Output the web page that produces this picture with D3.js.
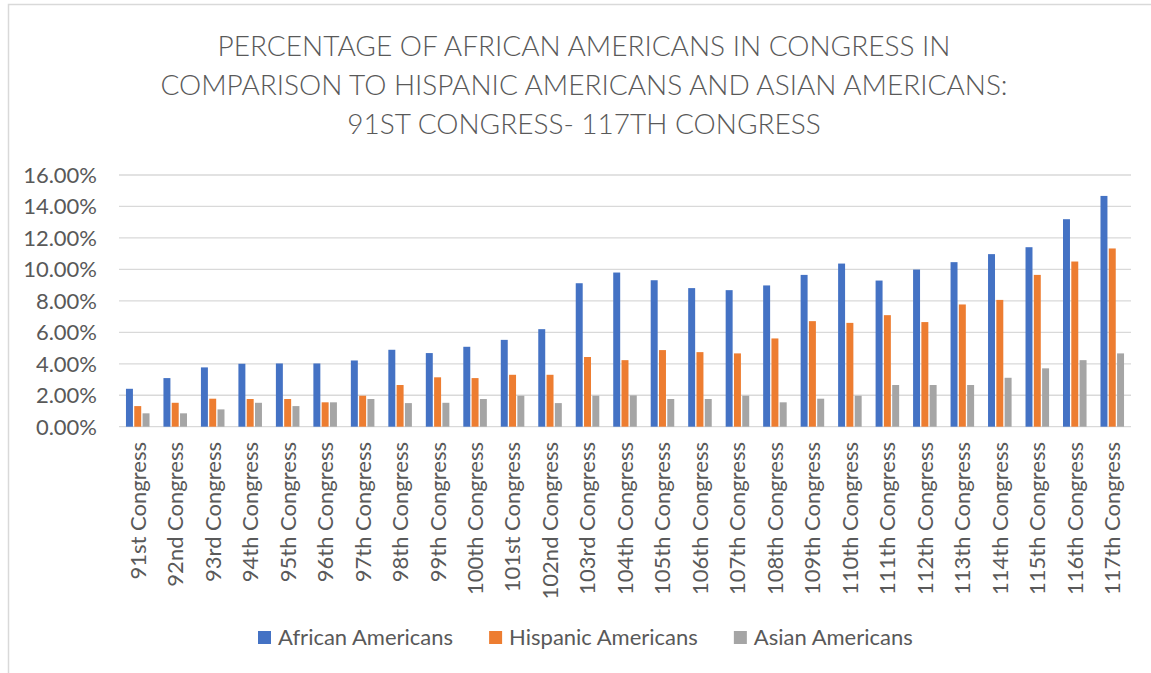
<!DOCTYPE html>
<html>
<head>
<meta charset="utf-8">
<script src="https://cdn.jsdelivr.net/npm/d3@7"></script>
<style>
  body { margin: 0; background: #fff; }
  text { font-family: Lato, "Open Sans", sans-serif; fill: #595959; }
</style>
</head>
<body>
<div id="chart"></div>
<script>
const W = 1151, H = 673;
const MARGIN = { LEFT: 119, RIGHT: 20, TOP: 175, BOTTOM: 246 };

// data (percent)
const congresses = ["91st", "92nd", "93rd", "94th", "95th", "96th", "97th", "98th", "99th",
  "100th", "101st", "102nd", "103rd", "104th", "105th", "106th", "107th", "108th", "109th",
  "110th", "111th", "112th", "113th", "114th", "115th", "116th", "117th"].map(c => c + " Congress");
const seriesNames = ["African Americans", "Hispanic Americans", "Asian Americans"];
const seriesColors = ["#4472c4", "#ed7d31", "#a5a5a5"];
const african = [2.41, 3.09, 3.77, 4.00, 4.02, 4.02, 4.21, 4.89, 4.68, 5.08, 5.52, 6.20, 9.12, 9.80,
  9.31, 8.81, 8.68, 8.98, 9.65, 10.37, 9.29, 9.99, 10.46, 10.97, 11.41, 13.19, 14.67];
const hispanic = [1.31, 1.52, 1.78, 1.76, 1.76, 1.55, 1.97, 2.65, 3.14, 3.09, 3.30, 3.30, 4.43, 4.23,
  4.87, 4.74, 4.66, 5.61, 6.71, 6.60, 7.09, 6.65, 7.77, 8.06, 9.65, 10.50, 11.33];
const asian = [0.85, 0.85, 1.10, 1.52, 1.31, 1.55, 1.76, 1.50, 1.52, 1.76, 1.97, 1.50, 1.97, 1.99,
  1.76, 1.76, 1.97, 1.55, 1.78, 1.97, 2.65, 2.65, 2.65, 3.11, 3.71, 4.23, 4.66];
const yTicks = [0, 2, 4, 6, 8, 10, 12, 14, 16];
const titleLines = [
  "PERCENTAGE OF AFRICAN AMERICANS IN CONGRESS IN",
  "COMPARISON TO HISPANIC AMERICANS AND ASIAN AMERICANS:",
  "91ST CONGRESS- 117TH CONGRESS"
];

const values = [african, hispanic, asian];
const rows = congresses.map((c, i) => ({ name: c, vals: values.map(v => v[i]) }));

const svg = d3.select("#chart").append("svg")
  .attr("width", W).attr("height", H);

// chart border
svg.append("rect")
  .attr("x", 8.5).attr("y", 4.5)
  .attr("width", W + 20).attr("height", H + 20)
  .attr("fill", "#fff")
  .attr("stroke", "#d9d9d9")
  .attr("stroke-width", 1.5);

const x = d3.scaleBand()
  .domain(congresses)
  .range([MARGIN.LEFT, W - MARGIN.RIGHT]);

const x1 = d3.scaleBand()
  .domain(seriesNames)
  .range([0, x.bandwidth()])
  .paddingInner(0.16)
  .paddingOuter(0.84);

const y = d3.scaleLinear()
  .domain([0, 16])
  .range([H - MARGIN.BOTTOM - 0.3, MARGIN.TOP]);

// gridlines
svg.append("g")
  .selectAll("line")
  .data(yTicks)
  .join("line")
  .attr("x1", MARGIN.LEFT).attr("x2", W - MARGIN.RIGHT)
  .attr("y1", d => y(d)).attr("y2", d => y(d))
  .attr("stroke", "#d9d9d9")
  .attr("stroke-width", 1.3);

// y labels
svg.append("g")
  .selectAll("text")
  .data(yTicks)
  .join("text")
  .attr("x", 97)
  .attr("y", d => y(d))
  .attr("dy", "0.36em")
  .attr("text-anchor", "end")
  .style("font-size", "22px")
  .text(d => d.toFixed(2) + "%");

// bars
const groups = svg.append("g")
  .selectAll("g")
  .data(rows)
  .join("g")
  .attr("transform", d => `translate(${x(d.name)},0)`);

groups.selectAll("rect")
  .data(d => d.vals.map((v, k) => ({ key: seriesNames[k], v, k })))
  .join("rect")
  .attr("x", d => x1(d.key))
  .attr("width", x1.bandwidth())
  .attr("y", d => y(d.v))
  .attr("height", d => y(0) - y(d.v))
  .attr("fill", d => seriesColors[d.k]);

// x labels, rotated
svg.append("g")
  .selectAll("text")
  .data(congresses)
  .join("text")
  .attr("transform", d => `translate(${x(d) + x.bandwidth() / 2}, 442) rotate(-90)`)
  .attr("dy", "0.36em")
  .attr("text-anchor", "end")
  .style("font-size", "22px")
  .text(d => d);

// title
svg.append("g")
  .selectAll("text")
  .data(titleLines)
  .join("text")
  .attr("x", 584)
  .attr("y", (d, i) => 56 + i * 39)
  .attr("text-anchor", "middle")
  .style("font-size", "28px")
  .style("font-weight", 300)
  .text(d => d);

// legend
const legend = svg.append("g").attr("transform", "translate(258,631)");
let lx = 0;
seriesNames.forEach((name, k) => {
  legend.append("rect")
    .attr("x", lx).attr("y", 0)
    .attr("width", 13).attr("height", 13)
    .attr("fill", seriesColors[k]);
  const t = legend.append("text")
    .attr("x", lx + 20).attr("y", 13.5)
    .style("font-size", "22px")
    .text(name);
  lx += 20 + t.node().getComputedTextLength() + 36;
});
</script>
</body>
</html>
